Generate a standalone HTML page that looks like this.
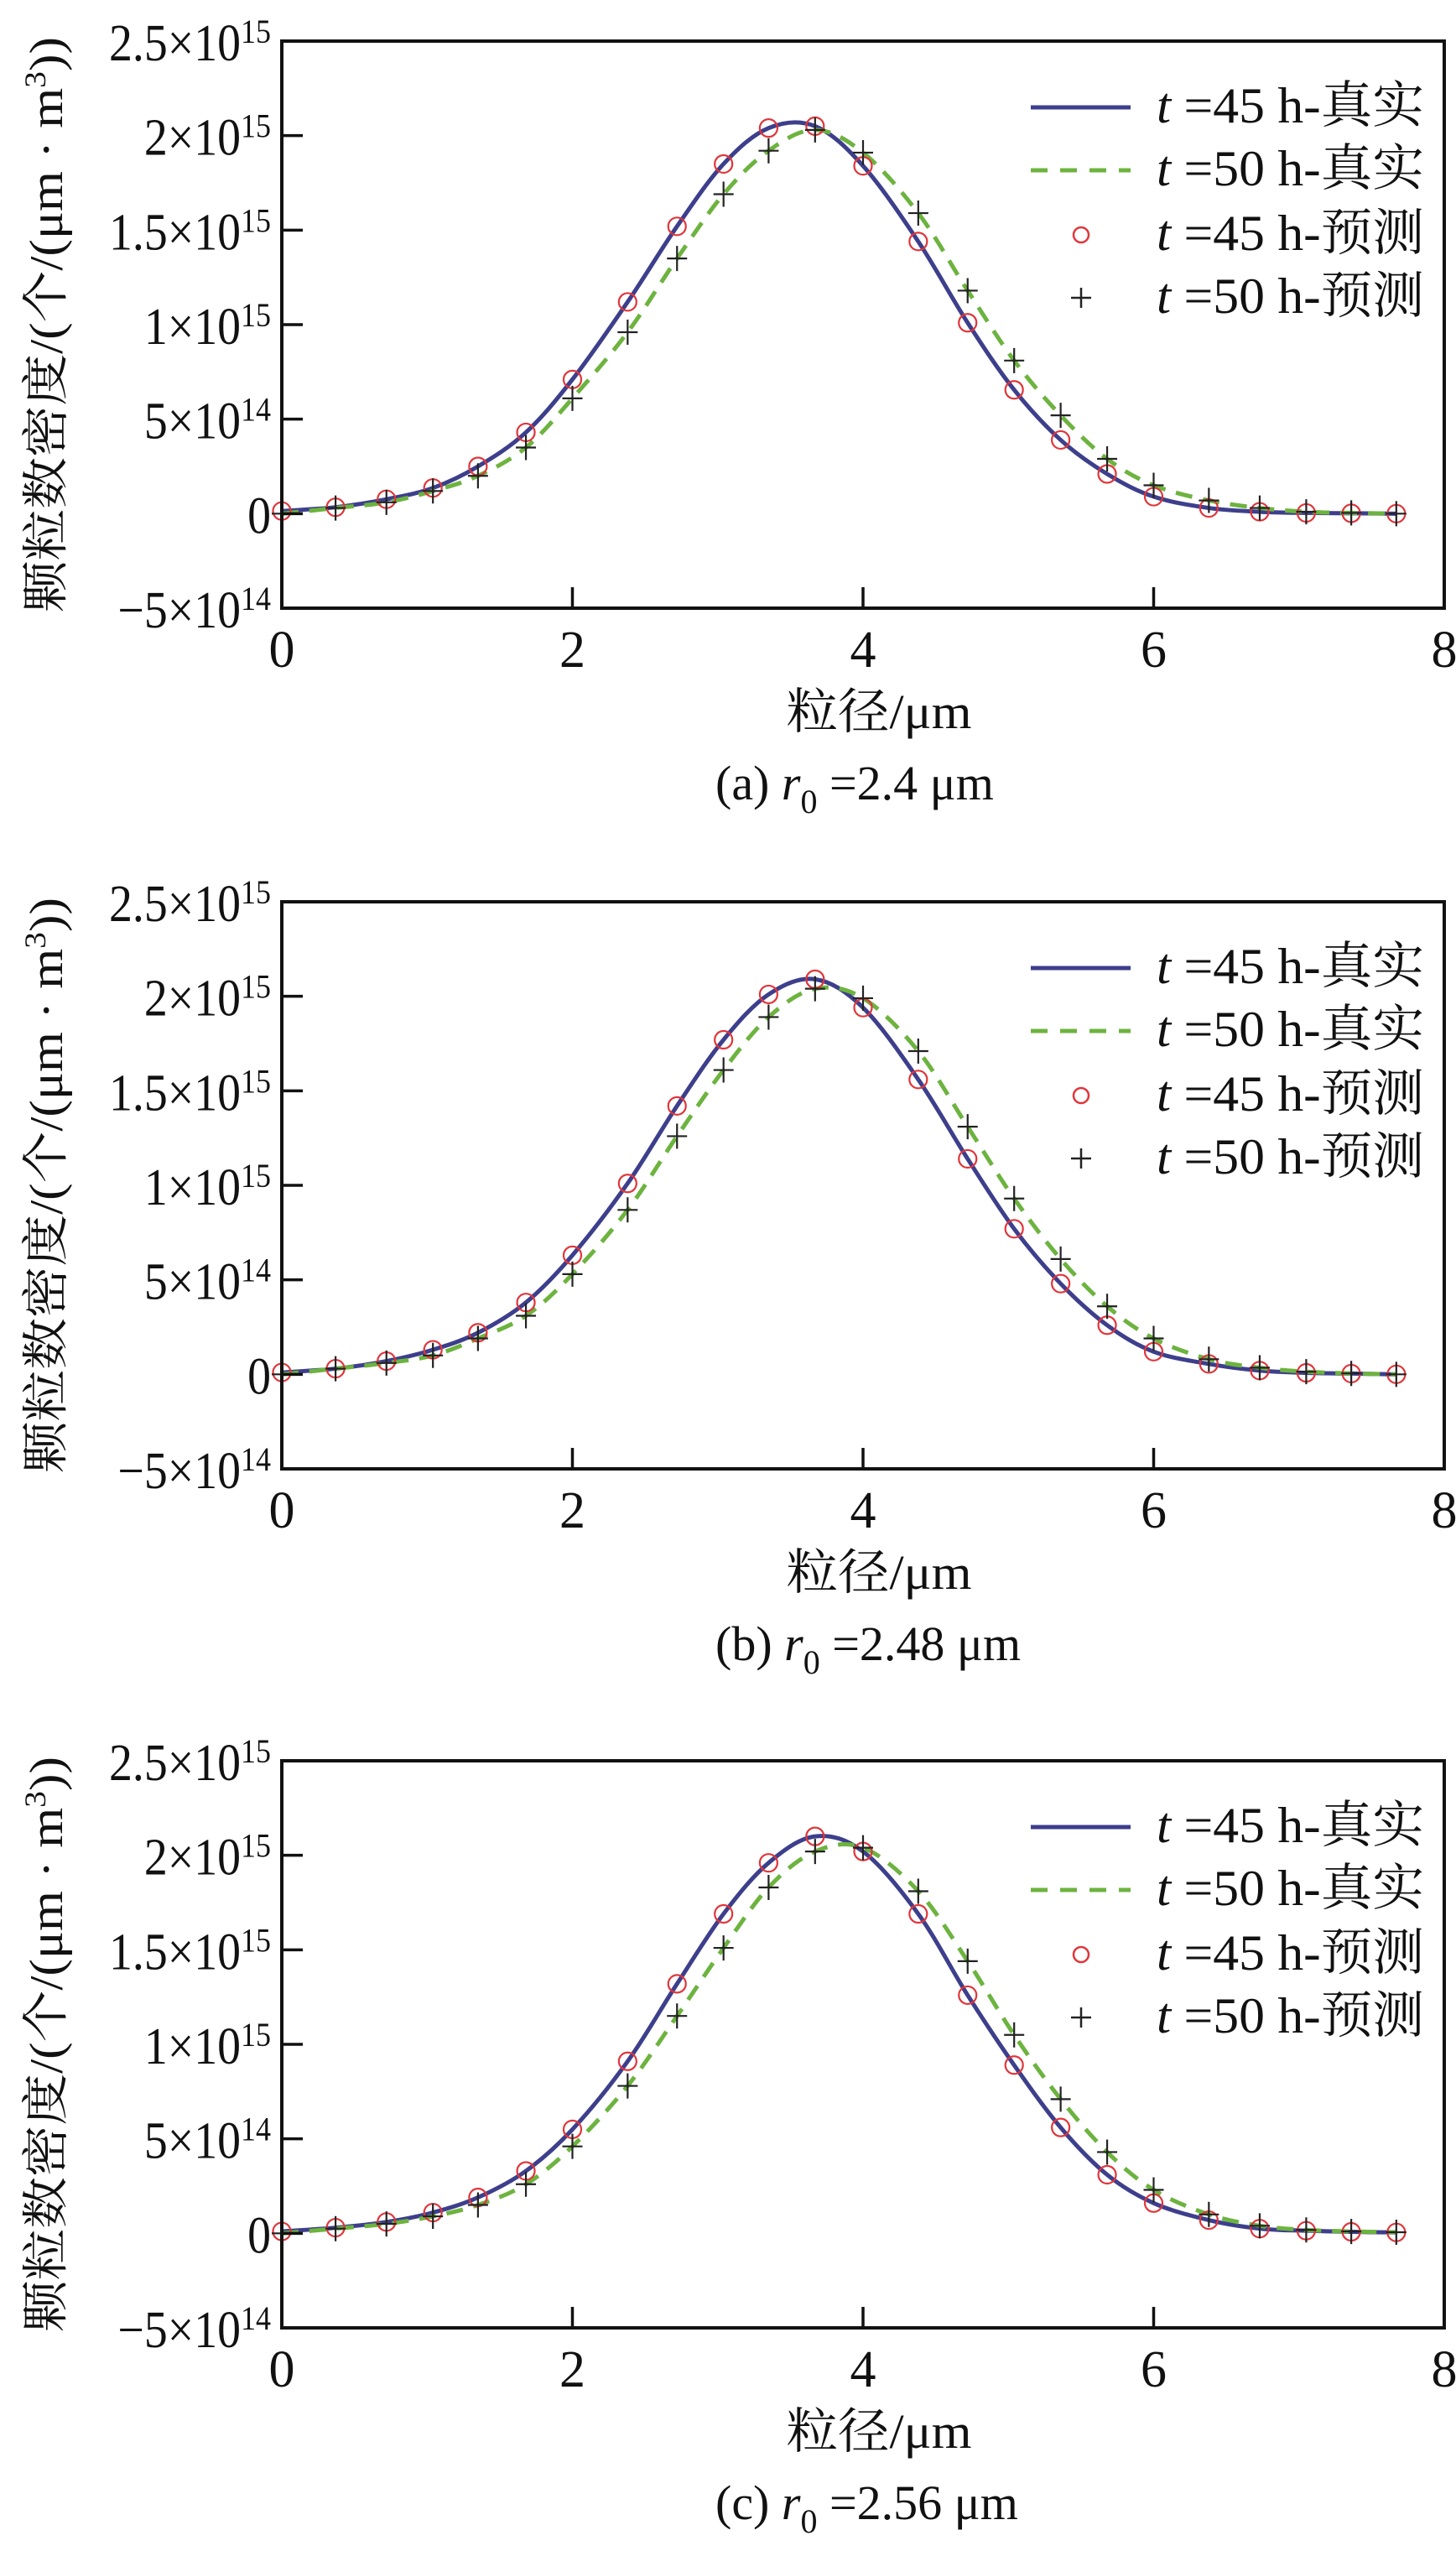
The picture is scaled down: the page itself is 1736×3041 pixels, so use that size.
<!DOCTYPE html>
<html><head><meta charset="utf-8"><style>
html,body{margin:0;padding:0;background:#fff}
svg{display:block}
text{font-family:"Liberation Serif","Noto Serif CJK SC",serif;fill:#111}
</style></head><body>
<svg id="fig" width="1736" height="3041" viewBox="0 0 1736 3041" xmlns="http://www.w3.org/2000/svg"></svg>
<script>
// shared x grid (μm)
const xs = [0,0.37,0.72,1.04,1.35,1.68,2.0,2.38,2.72,3.04,3.35,3.67,4.0,4.38,4.72,5.04,5.36,5.68,6.0,6.38,6.73,7.05,7.36,7.67];
// panel (a) values (×1e15)
const a45 = [0.014,0.034,0.076,0.136,0.25,0.43,0.71,1.12,1.52,1.85,2.04,2.05,1.84,1.44,1.01,0.655,0.39,0.21,0.09,0.03,0.01,0.004,0.002,0.0];
const a50 = [0.0,0.03,0.06,0.12,0.2,0.35,0.61,0.96,1.35,1.69,1.92,2.03,1.91,1.59,1.18,0.81,0.52,0.29,0.15,0.07,0.03,0.01,0.004,0.0];
// panel (b)
const b45 = [0.01,0.03,0.07,0.13,0.22,0.38,0.63,1.01,1.42,1.77,2.01,2.09,1.94,1.56,1.14,0.77,0.48,0.26,0.12,0.055,0.02,0.008,0.004,0.0];
const b50 = [0.0,0.03,0.06,0.10,0.19,0.31,0.53,0.87,1.26,1.61,1.89,2.04,1.99,1.71,1.31,0.93,0.61,0.36,0.19,0.08,0.035,0.014,0.005,0.0];
// panel (c)
const c45 = [0.01,0.03,0.06,0.11,0.19,0.33,0.55,0.91,1.32,1.69,1.96,2.10,2.02,1.69,1.26,0.89,0.56,0.31,0.16,0.07,0.025,0.014,0.008,0.005];
const c50 = [0.0,0.025,0.05,0.09,0.15,0.26,0.46,0.78,1.15,1.51,1.83,2.02,2.04,1.81,1.44,1.05,0.71,0.43,0.23,0.10,0.04,0.018,0.01,0.006];
const yTicks = [2.5,2.0,1.5,1.0,0.5,0,-0.5];
const yTickMain = ["2.5×10","2×10","1.5×10","1×10","5×10","0","−5×10"];
const yTickExp = ["15","15","15","15","14","","14"];
const xTicks = [0,2,4,6,8];
const captions = [["(a) ","2.4 μm"],["(b) ","2.48 μm"],["(c) ","2.56 μm"]];
const legendLabels = ["=45 h-真实","=50 h-真实","=45 h-预测","=50 h-预测"];

const NS="http://www.w3.org/2000/svg";
const svg=document.getElementById('fig');
function mk(tag,attrs,parent){const e=document.createElementNS(NS,tag);for(const k in attrs)e.setAttribute(k,attrs[k]);(parent||svg).appendChild(e);return e;}

const L=336,R=1722,H=676;
const panels=[{top:49,d45:a45,d50:a50},{top:1075,d45:b45,d50:b50},{top:2099,d45:c45,d50:c50}];

function pathFrom(px,py){
  let d=`M${px[0]},${py[0]}`;
  for(let i=0;i<px.length-1;i++){
    const x0=px[Math.max(i-1,0)],y0=py[Math.max(i-1,0)];
    const x1=px[i],y1=py[i],x2=px[i+1],y2=py[i+1];
    const x3=px[Math.min(i+2,px.length-1)],y3=py[Math.min(i+2,px.length-1)];
    const c1x=x1+(x2-x0)/6,c1y=y1+(y2-y0)/6,c2x=x2-(x3-x1)/6,c2y=y2-(y3-y1)/6;
    d+=` C${c1x},${c1y} ${c2x},${c2y} ${x2},${y2}`;
  }
  return d;
}

panels.forEach((p,pi)=>{
  const T=p.top,B=T+H;
  const sx=v=>L+(v/8)*(R-L);
  const sy=v=>T+(2.5-v)/3*H;
  const g=mk('g',{});
  
  
  // lines
  const px=xs.map(sx);
  const l45=mk('path',{d:pathFrom(px,p.d45.map(sy)),fill:'none',stroke:'#3d3f8c','stroke-width':5},g);
  
  
  const l50=mk('path',{d:pathFrom(px,p.d50.map(sy)),fill:'none',stroke:'#6db33f','stroke-width':5,'stroke-dasharray':'20 13'},g);
  
  
  // markers
  xs.forEach((x,i)=>{
    const c=mk('circle',{cx:sx(x),cy:sy(p.d45[i]),r:10.5,fill:'none',stroke:'#e0353a','stroke-width':2.2},g);
    
    
    const cx=sx(x),cy=sy(p.d50[i]);
    const m=mk('path',{d:`M${cx-12},${cy} H${cx+12} M${cx},${cy-15} V${cy+15}`,stroke:'#222','stroke-width':2.2,fill:'none'},g);
    
    
  });
  // axes box
  const box=mk('rect',{x:L,y:T,width:R-L,height:H,fill:'none',stroke:'#111','stroke-width':4},g);
  
  
  // y ticks and labels
  yTicks.forEach((v,i)=>{
    if(v<2.5&&v>-0.5){mk('line',{x1:L,x2:L+25,y1:sy(v),y2:sy(v),stroke:'#111','stroke-width':3.5},g);}
    const t=mk('text',{transform:`translate(323,${sy(v)+23}) scale(0.9,1)`,'text-anchor':'end','font-size':62},g);
    
    
    t.appendChild(document.createTextNode(yTickMain[i]));
    if(yTickExp[i]){const s=mk('tspan',{dy:-21,'font-size':40},t);s.textContent=yTickExp[i];}
  });
  // x ticks
  xTicks.forEach(v=>{
    if(v>0&&v<8)mk('line',{x1:sx(v),x2:sx(v),y1:B,y2:B-25,stroke:'#111','stroke-width':3.5},g);
    const t=mk('text',{x:sx(v),y:B+70,'text-anchor':'middle','font-size':62},g);
    
    
    t.textContent=String(v);
  });
  // axis titles
  const xt=mk('text',{x:1048,y:T+819,'text-anchor':'middle','font-size':58,textLength:221,lengthAdjust:'spacingAndGlyphs'},g);
  
  
  xt.textContent='粒径/μm';
  const yt=mk('text',{transform:`translate(74,${T+338}) rotate(-90)`,'text-anchor':'middle','font-size':56,textLength:686,lengthAdjust:'spacingAndGlyphs'},g);
  
  
  yt.appendChild(document.createTextNode('颗粒数密度/(个/(μm · m'));
  const sup=mk('tspan',{dy:-20,'font-size':36},yt);sup.textContent='3';
  const cl=mk('tspan',{dy:20},yt);cl.textContent='))';
  // caption
  const cap=mk('text',{x:853,y:T+904,'font-size':58},g);
  
  
  cap.appendChild(document.createTextNode(captions[pi][0]));
  const r=mk('tspan',{'font-style':'italic'},cap);r.textContent='r';
  const sub=mk('tspan',{dy:16,'font-size':40},cap);sub.textContent='0';
  const rest=mk('tspan',{dy:-16},cap);rest.textContent=' ='+captions[pi][1];
  // legend
  const lg=mk('g',{},g);
  
  
  const ly=[T+79,T+154,T+231,T+306];
  mk('line',{x1:1229,x2:1348,y1:ly[0],y2:ly[0],stroke:'#3d3f8c','stroke-width':5},lg);
  mk('line',{x1:1229,x2:1348,y1:ly[1],y2:ly[1],stroke:'#6db33f','stroke-width':5,'stroke-dasharray':'20 15'},lg);
  mk('circle',{cx:1289,cy:ly[2],r:9,fill:'none',stroke:'#e0353a','stroke-width':2.5},lg);
  mk('path',{d:`M1277,${ly[3]} H1301 M1289,${ly[3]-12} V${ly[3]+12}`,stroke:'#222','stroke-width':2.5},lg);
  legendLabels.forEach((lab,i)=>{
    const t=mk('text',{x:1379,y:ly[i]+18,'font-size':60,textLength:319,lengthAdjust:'spacingAndGlyphs'},lg);
    
    
    const it=mk('tspan',{'font-style':'italic'},t);it.textContent='t';
    t.appendChild(document.createTextNode(' '+lab));
  });
});
</script>
</body></html>
